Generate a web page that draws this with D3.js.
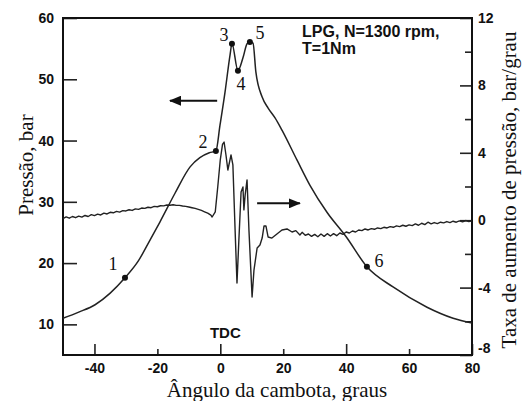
<!DOCTYPE html>
<html>
<head>
<meta charset="utf-8">
<script src="https://cdn.jsdelivr.net/npm/d3@7"></script>
<style>
  body { margin: 0; background: #fff; }
  svg { display: block; }
</style>
</head>
<body>
<svg id="chart"></svg>
<script>
// Cylinder pressure (bar) against crank angle (deg)
const pressureAngle = [-50, -45, -39.8, -35, -30.3, -26, -22.3, -19.2, -14.4, -9.6, -6.5, -3.5, -1.4,
  -0.1, 1.5, 3.1, 3.7, 5.6, 7.2, 8.5, 9.4, 10.4, 11.3, 13.3, 15.2, 17.4, 19.6, 24.4, 28.5,
  33.9, 40, 46.6, 54.9, 65.7, 74, 80];
const pressure = [11.0, 12.0, 13.2, 15.1, 17.6, 20.4, 23.8, 26.7, 31.4, 35.7, 37.2, 38.0, 38.3,
  42.5, 47.9, 54.0, 55.8, 51.4, 53.5, 55.8, 56.1, 55.9, 51.2, 47.1, 45.3, 43.7, 41.7, 36.8, 32.7,
  28.3, 24.3, 19.4, 16.1, 12.8, 11.0, 10.2];

// Rate of pressure rise (bar/deg)
const rateAngle = [-50, -49, -48, -47, -46, -45, -44, -43, -42, -41, -40, -39, -38, -37, -36, -35,
  -34, -33, -32, -31, -30, -29, -28, -27, -26, -25, -24, -23, -22, -21, -20, -19, -18, -17, -16,
  -15, -14, -13, -12, -11, -10, -9, -8, -7, -6, -5, -4, -3, -2.6, -1.6, -0.8, 0, 0.7, 1.2, 1.8,
  2.4, 3.4, 4.0, 4.7, 5.3, 5.9, 6.6, 7.2, 7.5, 7.9, 8.5, 9.1, 10.1, 10.7, 11.7, 12.6, 13.3, 13.9,
  14.5, 15.2, 16.4, 18, 19.6, 21.2, 22.8, 24, 25.3, 26, 27, 28, 29, 30, 31, 32, 33, 34, 35, 36,
  37, 38, 39, 40, 41, 42, 43, 44, 45, 46, 47, 48, 49, 50, 51, 52, 53, 54, 55, 56, 57, 58, 59, 60,
  61, 62, 63, 64, 65, 66, 67, 68, 69, 70, 71, 72, 73, 74, 75, 76, 77, 78, 79, 80];
const rate = [0.10, 0.20, 0.12, 0.22, 0.15, 0.24, 0.18, 0.28, 0.22, 0.33, 0.27, 0.36, 0.31, 0.42,
  0.37, 0.47, 0.44, 0.52, 0.48, 0.57, 0.55, 0.62, 0.58, 0.67, 0.64, 0.72, 0.70, 0.77, 0.74, 0.82,
  0.80, 0.86, 0.85, 0.90, 0.89, 0.92, 0.88, 0.88, 0.84, 0.82, 0.78, 0.74, 0.70, 0.64, 0.58, 0.50,
  0.42, 0.30, 0.19, 0.50, 2.0, 3.6, 4.5, 4.64, 3.87, 2.98, 3.87, 3.28, -0.58, -3.73, -1.18, 1.67,
  1.97, 0.61, 1.50, 2.39, -0.58, -4.56, -2.96, -1.65, -1.47, -1.06, -0.34, -0.34, -1.00, -1.06,
  -0.82, -0.58, -0.52, -0.70, -0.62, -0.88, -0.72, -0.90, -0.82, -0.96, -0.84, -0.98, -0.82,
  -0.96, -0.80, -0.94, -0.80, -0.92, -0.76, -0.84, -0.70, -0.76, -0.64, -0.70, -0.58, -0.62,
  -0.52, -0.58, -0.50, -0.54, -0.46, -0.50, -0.42, -0.46, -0.38, -0.42, -0.34, -0.38, -0.30,
  -0.36, -0.28, -0.32, -0.22, -0.30, -0.18, -0.26, -0.12, -0.22, -0.14, -0.20, -0.12, -0.16,
  -0.08, -0.14, -0.06, -0.12, -0.04, -0.10, -0.02, -0.08, -0.04];

// Numbered points on the pressure trace
const markAngle = [-30.3, -1.4, 3.7, 5.6, 9.4, 46.6];
const markPressure = [17.6, 38.3, 55.8, 51.4, 56.1, 19.4];
const markLabel = ["1", "2", "3", "4", "5", "6"];

// Axis ticks
const xTicks = [-40, -20, 0, 20, 40, 60, 80];
const xMajor = [-40, 0, 40, 80];
const leftTicks = [10, 20, 30, 40, 50, 60];
const rightTicks = [-8, -6, -4, -2, 0, 2, 4, 6, 8, 10, 12];

const W = 522, H = 401;
const margin = { top: 18, right: 50, bottom: 46, left: 63 };
const innerW = W - margin.left - margin.right;
const innerH = H - margin.top - margin.bottom;

const svg = d3.select("#chart").attr("width", W).attr("height", H);

const x = d3.scaleLinear().domain([-50, 80]).range([margin.left, margin.left + innerW]);
const yL = d3.scaleLinear().domain([5, 60]).range([margin.top + innerH, margin.top]);
const yR = d3.scaleLinear().domain([-8, 12]).range([margin.top + innerH, margin.top]);

const sans = "'Liberation Sans', Arial, Helvetica, sans-serif";
const serif = "'Liberation Serif', 'Times New Roman', serif";

// bottom axis
const gx = svg.append("g")
  .attr("transform", `translate(0,${margin.top + innerH})`)
  .call(d3.axisBottom(x).tickValues(xTicks).tickSize(-11).tickPadding(8).tickFormat(d => String(d)));
gx.selectAll(".tick line").attr("y2", d => xMajor.includes(d) ? -11 : -6);

// left axis
const gl = svg.append("g")
  .attr("transform", `translate(${margin.left},0)`)
  .call(d3.axisLeft(yL).tickValues(leftTicks).tickSize(-14).tickPadding(9));

// right axis
const gr = svg.append("g")
  .attr("transform", `translate(${margin.left + innerW},0)`)
  .call(d3.axisRight(yR).tickValues(rightTicks).tickSize(-12).tickPadding(6)
    .tickFormat(d => d % 4 === 0 ? String(d) : ""));
gr.selectAll(".tick line").attr("x2", d => d % 4 === 0 ? -12 : -7);
gr.selectAll(".tick text").filter(d => d === -8).attr("dy", "-0.2em");

[gx, gl, gr].forEach(g => {
  g.select(".domain").remove();
  g.selectAll(".tick line").attr("stroke", "#222").attr("stroke-width", 1.6);
  g.selectAll(".tick text")
    .attr("fill", "#111")
    .style("font-family", sans)
    .style("font-weight", "bold")
    .style("font-size", "14px");
});

// frame
svg.append("rect")
  .attr("x", margin.left).attr("y", margin.top)
  .attr("width", innerW).attr("height", innerH)
  .attr("fill", "none").attr("stroke", "#111").attr("stroke-width", 2);

// rate of pressure rise
svg.append("path")
  .datum(rateAngle.map((a, i) => [a, rate[i]]))
  .attr("fill", "none")
  .attr("stroke", "#222")
  .attr("stroke-width", 1.4)
  .attr("stroke-linejoin", "round")
  .attr("d", d3.line().x(d => x(d[0])).y(d => yR(d[1])));

// pressure
svg.append("path")
  .datum(pressureAngle.map((a, i) => [a, pressure[i]]))
  .attr("fill", "none")
  .attr("stroke", "#222")
  .attr("stroke-width", 1.5)
  .attr("d", d3.line().curve(d3.curveMonotoneX).x(d => x(d[0])).y(d => yL(d[1])));

// numbered points
const labelShift = [[-12, -14], [-13, -9], [-8, -9], [3, 13], [10, -9], [12, -6]];
markAngle.forEach((a, i) => {
  svg.append("circle")
    .attr("cx", x(a)).attr("cy", yL(markPressure[i]))
    .attr("r", 3).attr("fill", "#111");
  svg.append("text")
    .attr("x", x(a) + labelShift[i][0])
    .attr("y", yL(markPressure[i]) + labelShift[i][1])
    .attr("dy", "0.35em")
    .attr("text-anchor", "middle")
    .style("font-family", serif)
    .style("font-size", "18px")
    .attr("fill", "#111")
    .text(markLabel[i]);
});

// arrows showing which axis each curve belongs to
const defs = svg.append("defs");
defs.append("marker")
  .attr("id", "head")
  .attr("viewBox", "0 0 12 10")
  .attr("refX", 11).attr("refY", 5)
  .attr("markerWidth", 12).attr("markerHeight", 10)
  .attr("markerUnits", "userSpaceOnUse")
  .attr("orient", "auto")
  .append("path").attr("d", "M0,0L12,5L0,10Z").attr("fill", "#111");

svg.append("line")
  .attr("x1", x(-1)).attr("x2", x(-16))
  .attr("y1", yL(46.5)).attr("y2", yL(46.5))
  .attr("stroke", "#111").attr("stroke-width", 2)
  .attr("marker-end", "url(#head)");

svg.append("line")
  .attr("x1", x(11.7)).attr("x2", x(25.3))
  .attr("y1", yR(1.0)).attr("y2", yR(1.0))
  .attr("stroke", "#111").attr("stroke-width", 2)
  .attr("marker-end", "url(#head)");

// annotations
const note = svg.append("text")
  .attr("x", x(26)).attr("y", 37)
  .style("font-family", sans).style("font-weight", "bold").style("font-size", "16px")
  .attr("fill", "#111");
note.append("tspan").attr("x", x(26)).text("LPG, N=1300 rpm,");
note.append("tspan").attr("x", x(26)).attr("dy", 17).text("T=1Nm");

svg.append("text")
  .attr("x", x(0) + 5).attr("y", 338)
  .attr("text-anchor", "middle")
  .style("font-family", sans).style("font-weight", "bold").style("font-size", "15px")
  .attr("fill", "#111")
  .text("TDC");

// axis titles
svg.append("text")
  .attr("x", 277).attr("y", 397)
  .attr("text-anchor", "middle")
  .style("font-family", serif).style("font-size", "21px")
  .attr("fill", "#111")
  .text("Ângulo da cambota, graus");

svg.append("text")
  .attr("transform", `translate(33,${yL(36)}) rotate(-90)`)
  .attr("text-anchor", "middle")
  .style("font-family", serif).style("font-size", "21px")
  .attr("fill", "#111")
  .text("Pressão, bar");

svg.append("text")
  .attr("transform", `translate(516,190) rotate(-90)`)
  .attr("text-anchor", "middle")
  .style("font-family", serif).style("font-size", "21px")
  .attr("fill", "#111")
  .text("Taxa de aumento de pressão, bar/grau");
</script>
</body>
</html>
